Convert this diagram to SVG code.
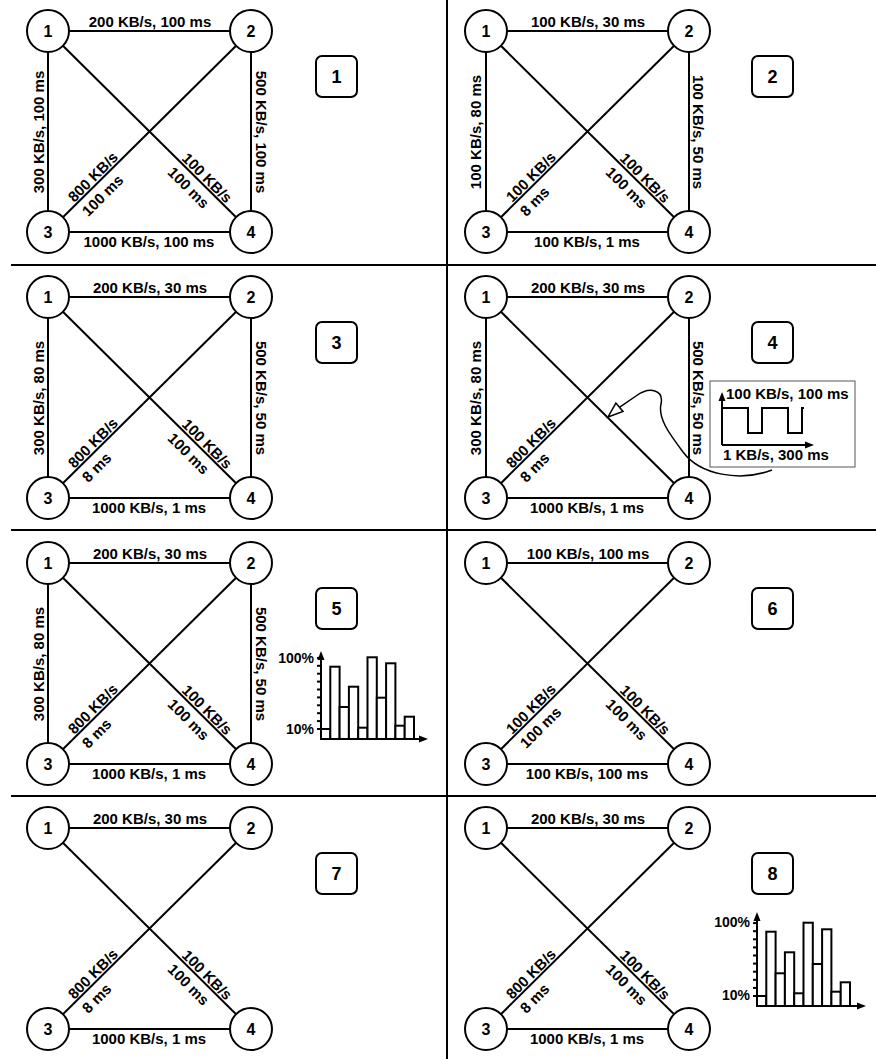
<svg xmlns="http://www.w3.org/2000/svg" width="876" height="1059" viewBox="0 0 876 1059">
<style>
.e line, .e path, .e polyline {stroke:#000; stroke-width:2; fill:none}
.n circle {fill:#fff; stroke:#000; stroke-width:2}
.n text {font-family:"Liberation Sans", Arial, sans-serif; font-weight:bold; font-size:16px; text-anchor:middle}
.l text {font-family:"Liberation Sans", Arial, sans-serif; font-weight:bold; font-size:15px}
.m {text-anchor:middle}
.box rect {fill:#fff; stroke:#000; stroke-width:2}
.box text {font-family:"Liberation Sans", Arial, sans-serif; font-weight:bold; font-size:18px; text-anchor:middle}
.div {stroke:#000; stroke-width:2}
.h rect {fill:#fff; stroke:#000; stroke-width:2}
.h line {stroke:#000; stroke-width:2}
.h text {font-family:"Liberation Sans", Arial, sans-serif; font-weight:bold; font-size:14px; text-anchor:end}
.ah {fill:#000}
</style>
<rect width="876" height="1059" fill="#fff"/>
<g id="dividers">
<line class="div" x1="11" y1="265" x2="876" y2="265"/>
<line class="div" x1="11" y1="530" x2="876" y2="530"/>
<line class="div" x1="11" y1="796" x2="876" y2="796"/>
<line class="div" x1="447" y1="0" x2="447" y2="1059"/>
</g>

<!-- Panel 1 -->
<g id="p1">
<g id="p1-edges" class="e">
<line x1="48" y1="31" x2="251" y2="31"/><line x1="48" y1="31" x2="48" y2="232"/><line x1="251" y1="31" x2="251" y2="232"/><line x1="48" y1="232" x2="251" y2="232"/><line x1="48" y1="31" x2="251" y2="232"/><line x1="48" y1="232" x2="251" y2="31"/>
</g>
<g id="p1-labels" class="l">
<text class="m" x="150" y="27">200 KB/s, 100 ms</text>
<text class="m" x="149" y="247">1000 KB/s, 100 ms</text>
<text class="m" transform="translate(44,132) rotate(-90)">300 KB/s, 100 ms</text>
<text class="m" transform="translate(256,132) rotate(90)">500 KB/s, 100 ms</text>
<g transform="translate(95.4,184.6) rotate(-45)"><text x="-28" y="-2">800 KB/s</text><text x="-28" y="18">100 ms</text></g>
<g transform="translate(199.4,180.4) rotate(45)"><text x="-28" y="-2">100 KB/s</text><text x="-28" y="18">100 ms</text></g>
</g>
<g id="p1-n1" class="n"><circle cx="48" cy="31" r="21"/><text x="48" y="37">1</text></g>
<g id="p1-n2" class="n"><circle cx="251" cy="31" r="21"/><text x="251" y="37">2</text></g>
<g id="p1-n3" class="n"><circle cx="48" cy="232" r="21"/><text x="48" y="238">3</text></g>
<g id="p1-n4" class="n"><circle cx="251" cy="232" r="21"/><text x="251" y="238">4</text></g>
<g id="p1-box" class="box"><rect x="316" y="56" width="41" height="41" rx="6"/><text x="336.5" y="83">1</text></g>
</g>

<!-- Panel 2 -->
<g id="p2" transform="translate(438,0)">
<g id="p2-edges" class="e">
<line x1="48" y1="31" x2="251" y2="31"/><line x1="48" y1="31" x2="48" y2="232"/><line x1="251" y1="31" x2="251" y2="232"/><line x1="48" y1="232" x2="251" y2="232"/><line x1="48" y1="31" x2="251" y2="232"/><line x1="48" y1="232" x2="251" y2="31"/>
</g>
<g id="p2-labels" class="l">
<text class="m" x="150" y="27">100 KB/s, 30 ms</text>
<text class="m" x="149" y="247">100 KB/s, 1 ms</text>
<text class="m" transform="translate(43,132) rotate(-90)">100 KB/s, 80 ms</text>
<text class="m" transform="translate(255,132) rotate(90)">100 KB/s, 50 ms</text>
<g transform="translate(95.4,184.6) rotate(-45)"><text x="-28" y="-2">100 KB/s</text><text x="-28" y="18">8 ms</text></g>
<g transform="translate(199.4,180.4) rotate(45)"><text x="-28" y="-2">100 KB/s</text><text x="-28" y="18">100 ms</text></g>
</g>
<g id="p2-n1" class="n"><circle cx="48" cy="31" r="21"/><text x="48" y="37">1</text></g>
<g id="p2-n2" class="n"><circle cx="251" cy="31" r="21"/><text x="251" y="37">2</text></g>
<g id="p2-n3" class="n"><circle cx="48" cy="232" r="21"/><text x="48" y="238">3</text></g>
<g id="p2-n4" class="n"><circle cx="251" cy="232" r="21"/><text x="251" y="238">4</text></g>
<g id="p2-box" class="box"><rect x="314" y="56" width="41" height="41" rx="6"/><text x="334.5" y="83">2</text></g>
</g>

<!-- Panel 3 -->
<g id="p3" transform="translate(0,266)">
<g id="p3-edges" class="e">
<line x1="48" y1="31" x2="251" y2="31"/><line x1="48" y1="31" x2="48" y2="232"/><line x1="251" y1="31" x2="251" y2="232"/><line x1="48" y1="232" x2="251" y2="232"/><line x1="48" y1="31" x2="251" y2="232"/><line x1="48" y1="232" x2="251" y2="31"/>
</g>
<g id="p3-labels" class="l">
<text class="m" x="150" y="27">200 KB/s, 30 ms</text>
<text class="m" x="149" y="247">1000 KB/s, 1 ms</text>
<text class="m" transform="translate(44,132) rotate(-90)">300 KB/s, 80 ms</text>
<text class="m" transform="translate(256,132) rotate(90)">500 KB/s, 50 ms</text>
<g transform="translate(95.4,184.6) rotate(-45)"><text x="-28" y="-2">800 KB/s</text><text x="-28" y="18">8 ms</text></g>
<g transform="translate(199.4,180.4) rotate(45)"><text x="-28" y="-2">100 KB/s</text><text x="-28" y="18">100 ms</text></g>
</g>
<g id="p3-n1" class="n"><circle cx="48" cy="31" r="21"/><text x="48" y="37">1</text></g>
<g id="p3-n2" class="n"><circle cx="251" cy="31" r="21"/><text x="251" y="37">2</text></g>
<g id="p3-n3" class="n"><circle cx="48" cy="232" r="21"/><text x="48" y="238">3</text></g>
<g id="p3-n4" class="n"><circle cx="251" cy="232" r="21"/><text x="251" y="238">4</text></g>
<g id="p3-box" class="box"><rect x="316" y="56" width="41" height="41" rx="6"/><text x="336.5" y="83">3</text></g>
</g>

<!-- Panel 4 -->
<g id="p4" transform="translate(438,266)">
<g id="p4-edges" class="e">
<line x1="48" y1="31" x2="251" y2="31"/><line x1="48" y1="31" x2="48" y2="232"/><line x1="251" y1="31" x2="251" y2="232"/><line x1="48" y1="232" x2="251" y2="232"/><line x1="48" y1="31" x2="251" y2="232"/><line x1="48" y1="232" x2="251" y2="31"/>
</g>
<g id="p4-labels" class="l">
<text class="m" x="150" y="27">200 KB/s, 30 ms</text>
<text class="m" x="149" y="247">1000 KB/s, 1 ms</text>
<text class="m" transform="translate(43,132) rotate(-90)">300 KB/s, 80 ms</text>
<text class="m" transform="translate(255,132) rotate(90)">500 KB/s, 50 ms</text>
<g transform="translate(95.4,184.6) rotate(-45)"><text x="-28" y="-2">800 KB/s</text><text x="-28" y="18">8 ms</text></g>
</g>
<g id="p4-n1" class="n"><circle cx="48" cy="31" r="21"/><text x="48" y="37">1</text></g>
<g id="p4-n2" class="n"><circle cx="251" cy="31" r="21"/><text x="251" y="37">2</text></g>
<g id="p4-n3" class="n"><circle cx="48" cy="232" r="21"/><text x="48" y="238">3</text></g>
<g id="p4-n4" class="n"><circle cx="251" cy="232" r="21"/><text x="251" y="238">4</text></g>
<g id="p4-box" class="box"><rect x="314" y="56" width="41" height="41" rx="6"/><text x="334.5" y="83">4</text></g>
</g>
<g id="p4-inset">
<rect x="710" y="381" width="145" height="86" fill="#fff" stroke="#555" stroke-width="1"/>
<g class="e">
<line x1="722" y1="445" x2="722" y2="400"/>
<line x1="722" y1="445" x2="806" y2="445"/>
<polyline points="722,408 748,408 748,433 762,433 762,408 788,408 788,433 802,433 802,408 804,408"/>
</g>
<polygon class="ah" points="722,392 718.5,401 725.5,401"/>
<polygon class="ah" points="814,445 805,441.5 805,448.5"/>
<g class="l">
<text x="726" y="399">100 KB/s, 100 ms</text>
<text x="723" y="460">1 KB/s, 300 ms</text>
</g>
<path d="M772,470 C740,482 700,475 683,452 C668,432 658,418 661,404 C664,390 650,386 636,396 L619.4,407.3" fill="none" stroke="#000" stroke-width="1.5"/>
<polygon points="608,417 623,411.5 615.9,403.1" fill="#fff" stroke="#000" stroke-width="1.5"/>
</g>

<!-- Panel 5 -->
<g id="p5" transform="translate(0,532)">
<g id="p5-edges" class="e">
<line x1="48" y1="31" x2="251" y2="31"/><line x1="48" y1="31" x2="48" y2="232"/><line x1="251" y1="31" x2="251" y2="232"/><line x1="48" y1="232" x2="251" y2="232"/><line x1="48" y1="31" x2="251" y2="232"/><line x1="48" y1="232" x2="251" y2="31"/>
</g>
<g id="p5-labels" class="l">
<text class="m" x="150" y="27">200 KB/s, 30 ms</text>
<text class="m" x="149" y="247">1000 KB/s, 1 ms</text>
<text class="m" transform="translate(44,132) rotate(-90)">300 KB/s, 80 ms</text>
<text class="m" transform="translate(256,132) rotate(90)">500 KB/s, 50 ms</text>
<g transform="translate(95.4,184.6) rotate(-45)"><text x="-28" y="-2">800 KB/s</text><text x="-28" y="18">8 ms</text></g>
<g transform="translate(199.4,180.4) rotate(45)"><text x="-28" y="-2">100 KB/s</text><text x="-28" y="18">100 ms</text></g>
</g>
<g id="p5-n1" class="n"><circle cx="48" cy="31" r="21"/><text x="48" y="37">1</text></g>
<g id="p5-n2" class="n"><circle cx="251" cy="31" r="21"/><text x="251" y="37">2</text></g>
<g id="p5-n3" class="n"><circle cx="48" cy="232" r="21"/><text x="48" y="238">3</text></g>
<g id="p5-n4" class="n"><circle cx="251" cy="232" r="21"/><text x="251" y="238">4</text></g>
<g id="p5-box" class="box"><rect x="316" y="56" width="41" height="41" rx="6"/><text x="336.5" y="83">5</text></g>
</g>
<g id="p5-hist" class="h" transform="translate(321,739)">
<rect x="0" y="-10" width="9.3" height="10"/>
<rect x="9.3" y="-72.3" width="9.3" height="72.3"/>
<rect x="18.6" y="-32" width="9.3" height="32"/>
<rect x="27.9" y="-52.3" width="9.3" height="52.3"/>
<rect x="37.2" y="-11.3" width="9.3" height="11.3"/>
<rect x="46.5" y="-81.7" width="9.3" height="81.7"/>
<rect x="55.8" y="-41.3" width="9.3" height="41.3"/>
<rect x="65.1" y="-75.7" width="9.3" height="75.7"/>
<rect x="74.4" y="-13.3" width="9.3" height="13.3"/>
<rect x="83.7" y="-22.3" width="9.3" height="22.3"/>
<line x1="0" y1="0" x2="0" y2="-80"/>
<line x1="0" y1="0" x2="99" y2="0"/>
<line x1="-4" y1="-10" x2="0" y2="-10"/><line x1="-4" y1="-17.9" x2="0" y2="-17.9"/><line x1="-4" y1="-25.8" x2="0" y2="-25.8"/><line x1="-4" y1="-33.7" x2="0" y2="-33.7"/><line x1="-4" y1="-41.6" x2="0" y2="-41.6"/><line x1="-4" y1="-49.5" x2="0" y2="-49.5"/><line x1="-4" y1="-57.4" x2="0" y2="-57.4"/><line x1="-4" y1="-65.3" x2="0" y2="-65.3"/><line x1="-4" y1="-73.2" x2="0" y2="-73.2"/><line x1="-4" y1="-81.1" x2="0" y2="-81.1"/>
<polygon class="ah" points="0,-88 -3.5,-79 3.5,-79"/>
<polygon class="ah" points="107,0 98,-3.5 98,3.5"/>
<text x="-7" y="-76">100%</text>
<text x="-7" y="-5">10%</text>
</g>

<!-- Panel 6 -->
<g id="p6" transform="translate(438,532)">
<g id="p6-edges" class="e">
<line x1="48" y1="31" x2="251" y2="31"/><line x1="48" y1="232" x2="251" y2="232"/><line x1="48" y1="31" x2="251" y2="232"/><line x1="48" y1="232" x2="251" y2="31"/>
</g>
<g id="p6-labels" class="l">
<text class="m" x="150" y="27">100 KB/s, 100 ms</text>
<text class="m" x="149" y="247">100 KB/s, 100 ms</text>
<g transform="translate(95.4,184.6) rotate(-45)"><text x="-28" y="-2">100 KB/s</text><text x="-28" y="18">100 ms</text></g>
<g transform="translate(199.4,180.4) rotate(45)"><text x="-28" y="-2">100 KB/s</text><text x="-28" y="18">100 ms</text></g>
</g>
<g id="p6-n1" class="n"><circle cx="48" cy="31" r="21"/><text x="48" y="37">1</text></g>
<g id="p6-n2" class="n"><circle cx="251" cy="31" r="21"/><text x="251" y="37">2</text></g>
<g id="p6-n3" class="n"><circle cx="48" cy="232" r="21"/><text x="48" y="238">3</text></g>
<g id="p6-n4" class="n"><circle cx="251" cy="232" r="21"/><text x="251" y="238">4</text></g>
<g id="p6-box" class="box"><rect x="314" y="56" width="41" height="41" rx="6"/><text x="334.5" y="83">6</text></g>
</g>

<!-- Panel 7 -->
<g id="p7" transform="translate(0,797)">
<g id="p7-edges" class="e">
<line x1="48" y1="31" x2="251" y2="31"/><line x1="48" y1="232" x2="251" y2="232"/><line x1="48" y1="31" x2="251" y2="232"/><line x1="48" y1="232" x2="251" y2="31"/>
</g>
<g id="p7-labels" class="l">
<text class="m" x="150" y="27">200 KB/s, 30 ms</text>
<text class="m" x="149" y="247">1000 KB/s, 1 ms</text>
<g transform="translate(95.4,184.6) rotate(-45)"><text x="-28" y="-2">800 KB/s</text><text x="-28" y="18">8 ms</text></g>
<g transform="translate(199.4,180.4) rotate(45)"><text x="-28" y="-2">100 KB/s</text><text x="-28" y="18">100 ms</text></g>
</g>
<g id="p7-n1" class="n"><circle cx="48" cy="31" r="21"/><text x="48" y="37">1</text></g>
<g id="p7-n2" class="n"><circle cx="251" cy="31" r="21"/><text x="251" y="37">2</text></g>
<g id="p7-n3" class="n"><circle cx="48" cy="232" r="21"/><text x="48" y="238">3</text></g>
<g id="p7-n4" class="n"><circle cx="251" cy="232" r="21"/><text x="251" y="238">4</text></g>
<g id="p7-box" class="box"><rect x="316" y="56" width="41" height="41" rx="6"/><text x="336.5" y="83">7</text></g>
</g>

<!-- Panel 8 -->
<g id="p8" transform="translate(438,797)">
<g id="p8-edges" class="e">
<line x1="48" y1="31" x2="251" y2="31"/><line x1="48" y1="232" x2="251" y2="232"/><line x1="48" y1="31" x2="251" y2="232"/><line x1="48" y1="232" x2="251" y2="31"/>
</g>
<g id="p8-labels" class="l">
<text class="m" x="150" y="27">200 KB/s, 30 ms</text>
<text class="m" x="149" y="247">1000 KB/s, 1 ms</text>
<g transform="translate(95.4,184.6) rotate(-45)"><text x="-28" y="-2">800 KB/s</text><text x="-28" y="18">8 ms</text></g>
<g transform="translate(199.4,180.4) rotate(45)"><text x="-28" y="-2">100 KB/s</text><text x="-28" y="18">100 ms</text></g>
</g>
<g id="p8-n1" class="n"><circle cx="48" cy="31" r="21"/><text x="48" y="37">1</text></g>
<g id="p8-n2" class="n"><circle cx="251" cy="31" r="21"/><text x="251" y="37">2</text></g>
<g id="p8-n3" class="n"><circle cx="48" cy="232" r="21"/><text x="48" y="238">3</text></g>
<g id="p8-n4" class="n"><circle cx="251" cy="232" r="21"/><text x="251" y="238">4</text></g>
<g id="p8-box" class="box"><rect x="314" y="56" width="41" height="41" rx="6"/><text x="334.5" y="83">8</text></g>
</g>
<g id="p8-hist" class="h" transform="translate(757,1006)">
<rect x="0" y="-10" width="9.3" height="10"/>
<rect x="9.3" y="-74.3" width="9.3" height="74.3"/>
<rect x="18.6" y="-32.7" width="9.3" height="32.7"/>
<rect x="27.9" y="-53.7" width="9.3" height="53.7"/>
<rect x="37.2" y="-12.7" width="9.3" height="12.7"/>
<rect x="46.5" y="-83.3" width="9.3" height="83.3"/>
<rect x="55.8" y="-42" width="9.3" height="42"/>
<rect x="65.1" y="-76.7" width="9.3" height="76.7"/>
<rect x="74.4" y="-14.3" width="9.3" height="14.3"/>
<rect x="83.7" y="-23.7" width="9.3" height="23.7"/>
<line x1="0" y1="0" x2="0" y2="-86"/>
<line x1="0" y1="0" x2="101" y2="0"/>
<line x1="-4" y1="-10" x2="0" y2="-10"/><line x1="-4" y1="-18.1" x2="0" y2="-18.1"/><line x1="-4" y1="-26.2" x2="0" y2="-26.2"/><line x1="-4" y1="-34.3" x2="0" y2="-34.3"/><line x1="-4" y1="-42.4" x2="0" y2="-42.4"/><line x1="-4" y1="-50.5" x2="0" y2="-50.5"/><line x1="-4" y1="-58.6" x2="0" y2="-58.6"/><line x1="-4" y1="-66.7" x2="0" y2="-66.7"/><line x1="-4" y1="-74.8" x2="0" y2="-74.8"/><line x1="-4" y1="-82.9" x2="0" y2="-82.9"/>
<polygon class="ah" points="0,-94 -3.5,-85 3.5,-85"/>
<polygon class="ah" points="109,0 100,-3.5 100,3.5"/>
<text x="-7" y="-79">100%</text>
<text x="-7" y="-6">10%</text>
</g>
</svg>
